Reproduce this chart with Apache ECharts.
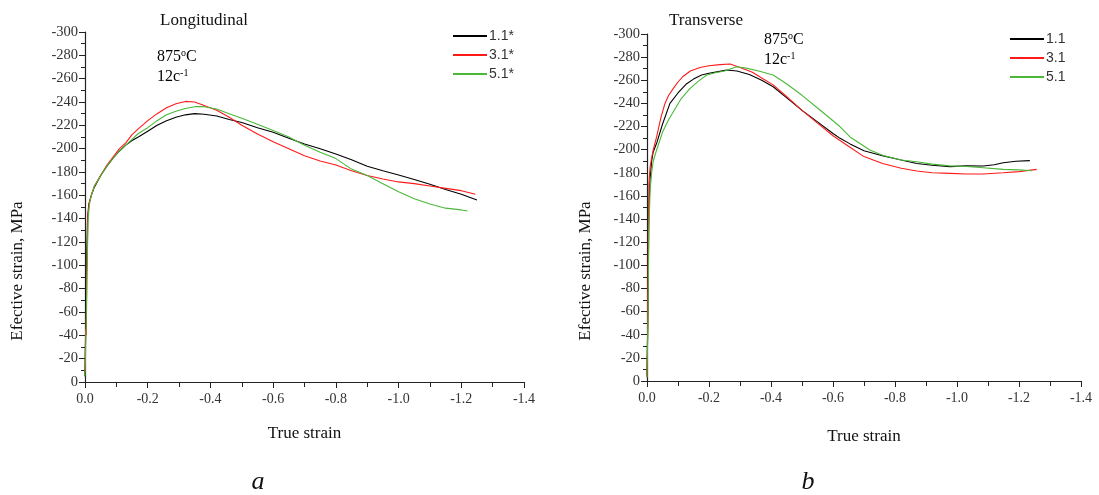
<!DOCTYPE html>
<html>
<head>
<meta charset="utf-8">
<script src="https://cdn.jsdelivr.net/npm/echarts@6/dist/echarts.min.js"></script>
<style>html,body{margin:0;padding:0;background:#fff}#c{width:1099px;height:495px}</style>
</head>
<body>
<div id="c"></div>
<script>
// ---- data (strain magnitude, stress magnitude; plotted labels carry "-" sign) ----
const xTicks = [0, 0.2, 0.4, 0.6, 0.8, 1.0, 1.2, 1.4];
const yTicks = [0, 20, 40, 60, 80, 100, 120, 140, 160, 180, 200, 220, 240, 260, 280, 300];

const leftNames = ['1.1*', '3.1*', '5.1*'];
const rightNames = ['1.1', '3.1', '5.1'];

const L11 = [[0,5],[0.003,60],[0.005,100],[0.008,140],[0.012,152],[0.02,160],[0.03,167],[0.05,177],[0.07,185],[0.09,192],[0.11,198],[0.13,203],[0.15,207],[0.17,210],[0.2,215],[0.23,220],[0.26,224],[0.29,227],[0.32,229],[0.35,230],[0.38,229.5],[0.42,228],[0.46,225],[0.5,222.5],[0.55,218],[0.6,214],[0.65,209],[0.7,204],[0.75,200],[0.8,195.5],[0.85,190.5],[0.9,185],[0.95,181],[1.0,177.5],[1.05,173.5],[1.1,169.5],[1.15,165],[1.2,161],[1.25,156]];
const L31 = [[0,8],[0.002,45],[0.004,40],[0.006,90],[0.009,140],[0.013,153],[0.02,160],[0.03,168],[0.05,177],[0.07,186],[0.09,193],[0.11,200],[0.13,205],[0.15,212],[0.17,217],[0.2,224],[0.23,230],[0.26,235],[0.29,238.5],[0.32,240.5],[0.35,240],[0.38,237],[0.42,233],[0.46,227],[0.5,220],[0.55,212.5],[0.6,206],[0.65,200],[0.7,194],[0.75,189.5],[0.8,186],[0.85,181],[0.9,177],[0.95,174],[1.0,171.5],[1.05,170],[1.1,168],[1.15,166],[1.2,164],[1.245,161]];
const L51 = [[0,5],[0.003,40],[0.006,90],[0.01,140],[0.014,152],[0.02,160],[0.03,168],[0.05,177],[0.07,185],[0.09,192],[0.11,198],[0.13,203],[0.15,208],[0.17,213],[0.2,218],[0.23,224],[0.26,229],[0.29,232],[0.32,234.5],[0.35,236],[0.38,236],[0.42,234],[0.46,230],[0.5,226],[0.55,221],[0.6,215.5],[0.65,210],[0.7,203],[0.75,197],[0.8,191.5],[0.85,182.5],[0.9,177],[0.95,170],[1.0,163],[1.05,157],[1.1,152.5],[1.15,149],[1.2,147.5],[1.22,146.5]];

const R11 = [[0,5],[0.003,60],[0.006,145],[0.01,175],[0.015,190],[0.02,198],[0.031,205.5],[0.05,222],[0.074,240],[0.1,249],[0.128,257],[0.15,261],[0.176,264.5],[0.2,266],[0.23,267.5],[0.257,268.9],[0.29,268],[0.33,265],[0.37,260],[0.407,254.4],[0.45,245],[0.5,234],[0.55,224],[0.6,214],[0.623,209.8],[0.655,205],[0.7,199],[0.762,194.5],[0.82,191],[0.87,188],[0.92,186.5],[0.977,185.3],[1.03,186],[1.085,185.9],[1.12,187],[1.149,188.7],[1.19,190],[1.235,190.5]];
const R31 = [[0,3],[0.002,40],[0.004,110],[0.006,170],[0.01,185],[0.015,193],[0.02,199.7],[0.031,211],[0.045,228],[0.058,240],[0.07,247],[0.085,253],[0.1,258.5],[0.117,263.5],[0.14,268],[0.171,271],[0.2,272.5],[0.235,273.5],[0.268,274],[0.3,271],[0.34,267],[0.37,262],[0.407,256],[0.45,246],[0.5,234],[0.55,223],[0.6,212],[0.65,203],[0.7,194],[0.76,188],[0.82,184],[0.87,181.5],[0.92,180],[0.977,179.5],[1.03,179],[1.085,179],[1.149,180],[1.2,181],[1.257,183]];
const R51 = [[0,3],[0.003,50],[0.006,130],[0.01,165],[0.015,180],[0.02,190],[0.031,199.7],[0.05,215],[0.07,226],[0.085,232.8],[0.11,244],[0.139,253],[0.165,259],[0.193,264.5],[0.22,266.5],[0.25,268],[0.289,271.7],[0.32,270.5],[0.36,268],[0.407,264.5],[0.45,257],[0.5,247],[0.55,236],[0.6,225],[0.623,219.8],[0.655,211],[0.719,199.7],[0.762,195],[0.82,191],[0.87,189.6],[0.92,187.5],[0.977,186],[1.03,185.5],[1.085,184.4],[1.149,183],[1.2,182.5],[1.241,181.8]];

const colors = ['#000000', '#ff1a1a', '#4cb83a'];
const SERIF = '"Liberation Serif", "Times New Roman", serif';
const SANS = '"Liberation Sans", Arial, sans-serif';

function xAxisCfg(gi, gap) {
  return {
    type: 'value', gridIndex: gi, min: xTicks[0], max: xTicks[xTicks.length - 1], interval: 0.2,
    name: 'True strain', nameLocation: 'middle', nameGap: gap,
    nameTextStyle: { fontFamily: SERIF, fontSize: 17, color: '#111' },
    axisLine: { show: true, onZero: false, lineStyle: { color: '#222', width: 1.2 } },
    axisTick: { show: true, inside: false, length: 6, lineStyle: { color: '#222' } },
    minorTick: { show: true, splitNumber: 2, length: 5, lineStyle: { color: '#222' } },
    splitLine: { show: false },
    axisLabel: { margin: 10, fontFamily: SERIF, fontSize: 14, color: '#333',
      formatter: v => v === 0 ? '0.0' : '-' + v.toFixed(1) }
  };
}
function yAxisCfg(gi) {
  return {
    type: 'value', gridIndex: gi, min: yTicks[0], max: yTicks[yTicks.length - 1], interval: 20,
    axisLine: { show: true, onZero: false, lineStyle: { color: '#222', width: 1.2 } },
    axisTick: { show: true, inside: false, length: 6, lineStyle: { color: '#222' } },
    minorTick: { show: true, splitNumber: 2, length: 4, lineStyle: { color: '#222' } },
    splitLine: { show: false },
    axisLabel: { margin: 7, fontFamily: SERIF, fontSize: 14.5, color: '#333',
      formatter: v => v === 0 ? '0' : '-' + v }
  };
}
function mkSeries(name, data, gi, ci) {
  return { name: name, type: 'line', xAxisIndex: gi, yAxisIndex: gi, data: data,
    showSymbol: false, symbol: 'none', animation: false,
    lineStyle: { color: colors[ci], width: 1.1 }, itemStyle: { color: colors[ci] } };
}
function legendCfg(names, left, top) {
  return { orient: 'vertical', left: left, top: top, data: names, icon: 'rect',
    itemWidth: 34, itemHeight: 2, itemGap: 5, selectedMode: false,
    textStyle: { fontFamily: SANS, fontSize: 14, color: '#333', padding: [0, 0, 0, -3] } };
}
const supRich = {
  n: { fontFamily: SERIF, fontSize: 16, color: '#222', lineHeight: 18 },
  s: { fontFamily: SERIF, fontSize: 10, color: '#222', verticalAlign: 'top', lineHeight: 18 }
};
function txt(x, y, text, extra) {
  return Object.assign({ type: 'text', x: x, y: y, silent: true,
    style: Object.assign({ text: text, fontFamily: SERIF, fontSize: 17, fill: '#111',
      align: 'center', verticalAlign: 'middle' }, extra || {}) });
}
function richTxt(x, y, text) {
  return { type: 'text', x: x, y: y, silent: true,
    style: { text: text, rich: supRich, align: 'left', verticalAlign: 'middle' } };
}

const chart = echarts.init(document.getElementById('c'), null, { renderer: 'canvas' });
chart.setOption({
  backgroundColor: '#fff',
  animation: false,
  grid: [
    { left: 85, width: 439, top: 32, height: 350, outerBoundsMode: 'none' },
    { left: 647, width: 434, top: 34, height: 347, outerBoundsMode: 'none' }
  ],
  xAxis: [xAxisCfg(0, 43), xAxisCfg(1, 47)],
  yAxis: [yAxisCfg(0), yAxisCfg(1)],
  legend: [legendCfg(leftNames, 448, 24), legendCfg(rightNames, 1005, 27)],
  series: [
    mkSeries(leftNames[0], L11, 0, 0),
    mkSeries(leftNames[1], L31, 0, 1),
    mkSeries(leftNames[2], L51, 0, 2),
    mkSeries(rightNames[0], R11, 1, 0),
    mkSeries(rightNames[1], R31, 1, 1),
    mkSeries(rightNames[2], R51, 1, 2)
  ],
  graphic: [
    txt(204, 21, 'Longitudinal'),
    richTxt(157, 57, '{n|875}{s|o}{n|C}'),
    richTxt(157, 77, '{n|12c}{s|-1}'),
    txt(706, 21, 'Transverse'),
    richTxt(764, 40, '{n|875}{s|o}{n|C}'),
    richTxt(764, 60, '{n|12c}{s|-1}'),
    Object.assign(txt(18, 271, 'Efective strain, MPa'), { rotation: Math.PI / 2 }),
    Object.assign(txt(586, 271, 'Efective strain, MPa'), { rotation: Math.PI / 2 }),
    txt(258, 482, 'a', { fontSize: 26, fontStyle: 'italic' }),
    txt(808, 482, 'b', { fontSize: 26, fontStyle: 'italic' })
  ]
});
</script>
</body>
</html>
